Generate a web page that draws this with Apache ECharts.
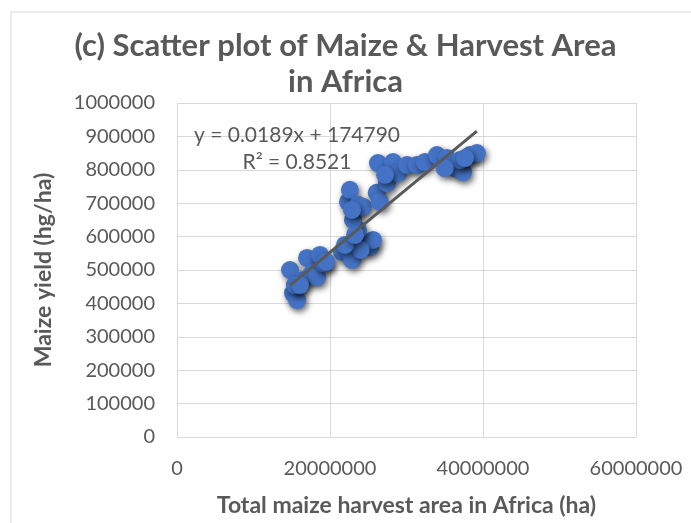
<!DOCTYPE html>
<html>
<head>
<meta charset="utf-8">
<script src="https://cdn.jsdelivr.net/npm/echarts@6/dist/echarts.min.js"></script>
<style>
    html, body { margin: 0; padding: 0; background: #fff; }
    #chart { width: 691px; height: 523px; }
</style>
</head>
<body>
<div id="chart"></div>
<script>
// harvest area (ha) and yield (hg/ha)
const harvestArea = [
    14770000, 15160000, 15690000, 16470000, 17000000, 17650000, 18690000, 18300000, 15400000,
    21570000, 22600000, 22880000, 23920000, 25230000, 25620000, 23660000, 23000000, 22350000,
    22600000, 23660000, 24300000, 26100000, 26500000, 27450000, 26270000, 28240000, 28900000,
    30070000, 31370000, 32400000, 33990000, 35300000, 36340000, 37390000, 38300000, 39200000,
    37000000, 24000000, 19200000, 16080000, 19500000, 21960000, 23270000, 22880000, 27200000,
    35000000, 37650000
]
const maizeYield = [
    500000, 431000, 410000, 470000, 536000, 491000, 545000, 479000, 455000,
    554000, 551000, 530000, 581000, 569000, 590000, 620000, 650000, 704000,
    740000, 695000, 689000, 731000, 704000, 760000, 820000, 823000, 790000,
    814000, 814000, 823000, 844000, 835000, 805000, 793000, 844000, 850000,
    829000, 560000, 520000, 455000, 524000, 575000, 605000, 680000, 785000,
    805000, 835000
]
const xTicks = [0, 20000000, 40000000, 60000000]
const yTicks = [0, 100000, 200000, 300000, 400000, 500000, 600000, 700000, 800000, 900000, 1000000]

// linear trendline as printed on the chart
const slope = 0.0189
const intercept = 174790

const points = harvestArea.map((x, i) => [x, maizeYield[i]])
const xMin = Math.min(...harvestArea)
const xMax = Math.max(...harvestArea)
const trend = [[xMin, slope * xMin + intercept], [xMax, slope * xMax + intercept]]

const grey = '#595959'
const font = 'Lato'

const chart = echarts.init(document.getElementById('chart'))
chart.setOption({
    backgroundColor: '#fff',
    animation: false,
    title: {
        text: '(c) Scatter plot of Maize & Harvest Area\nin Africa',
        left: 'center',
        top: 23,
        textStyle: {
            fontFamily: font,
            fontSize: 31,
            fontWeight: 'bold',
            color: grey,
            lineHeight: 36
        }
    },
    graphic: [
        {
            type: 'rect',
            shape: { x: 11, y: 12, width: 700, height: 540 },
            style: { fill: 'none', stroke: '#d9d9d9', lineWidth: 1 },
            z: -1
        },
        {
            type: 'text',
            x: 297,
            y: 149,
            style: {
                text: 'y = 0.0189x + 174790\nR² = 0.8521',
                align: 'center',
                verticalAlign: 'middle',
                fontFamily: font,
                fontSize: 21,
                lineHeight: 27,
                fill: grey,
                textAlign: 'center'
            },
            z: 10
        }
    ],
    grid: {
        left: 177,
        right: 55,
        top: 103,
        bottom: 86,
        outerBoundsMode: 'none'
    },
    xAxis: {
        type: 'value',
        min: 0,
        max: 60000000,
        interval: 20000000,
        name: 'Total maize harvest area in Africa (ha)',
        nameLocation: 'middle',
        nameGap: 57,
        nameTextStyle: { fontFamily: font, fontSize: 23, fontWeight: 'bold', color: grey },
        axisLine: { show: false },
        axisTick: { show: false },
        splitLine: { lineStyle: { color: '#d9d9d9', width: 1 } },
        axisLabel: {
            fontFamily: font,
            fontSize: 20,
            color: grey,
            margin: 22,
            customValues: xTicks,
            formatter: v => String(v)
        }
    },
    yAxis: {
        type: 'value',
        min: 0,
        max: 1000000,
        interval: 100000,
        name: 'Maize yield (hg/ha)',
        nameLocation: 'middle',
        nameGap: 122,
        nameTextStyle: { fontFamily: font, fontSize: 23, fontWeight: 'bold', color: grey },
        axisLine: { show: false },
        axisTick: { show: false },
        splitLine: { lineStyle: { color: '#d9d9d9', width: 1 } },
        axisLabel: {
            fontFamily: font,
            fontSize: 20,
            color: grey,
            margin: 22,
            customValues: yTicks,
            formatter: v => String(v)
        }
    },
    series: [
        {
            type: 'scatter',
            data: points,
            symbolSize: 18,
            itemStyle: {
                color: '#4472c4',
                opacity: 1,
                shadowBlur: 6,
                shadowColor: 'rgba(0,0,0,0.6)',
                shadowOffsetX: 2,
                shadowOffsetY: 3
            },
            z: 2
        },
        {
            type: 'line',
            data: trend,
            symbol: 'none',
            lineStyle: { color: grey, width: 3 },
            z: 3
        }
    ]
})
</script>
</body>
</html>
